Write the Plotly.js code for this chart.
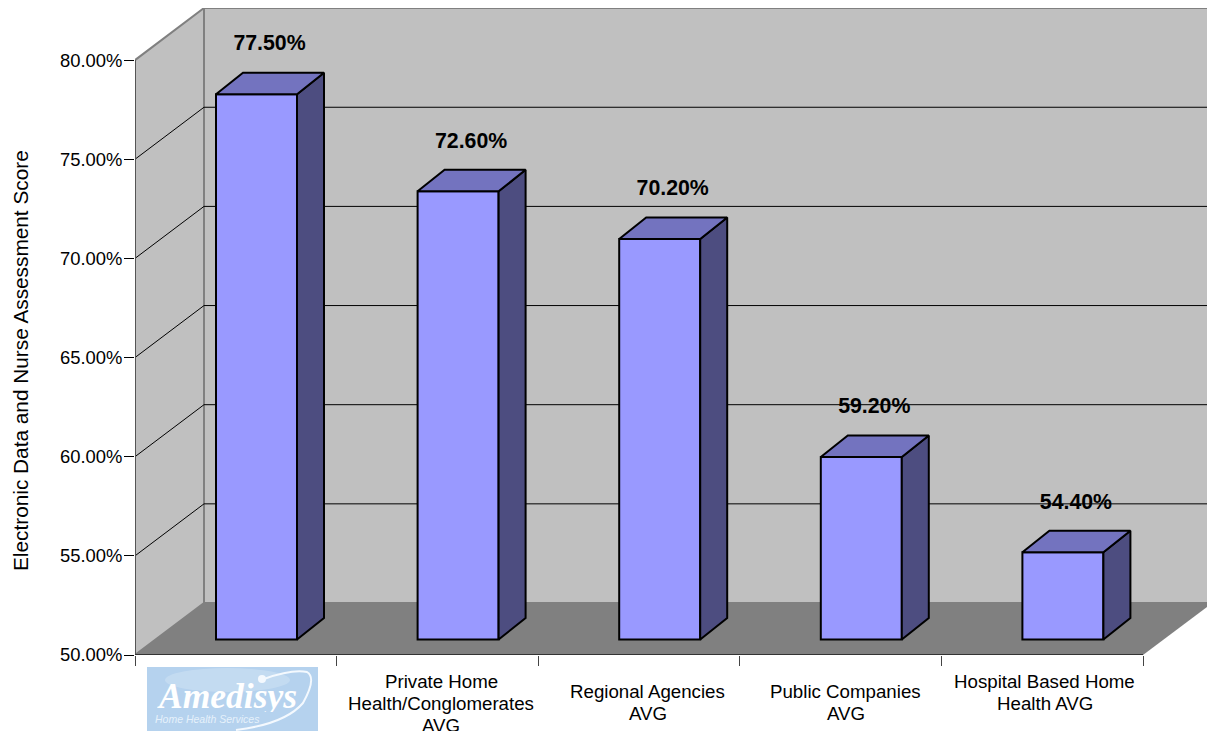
<!DOCTYPE html>
<html>
<head>
<meta charset="utf-8">
<script src="https://cdn.plot.ly/plotly-3.0.1.min.js"></script>
<style>html,body{margin:0;padding:0;background:#fff}</style>
</head>
<body>
<div id="chart" style="width:1207px;height:731px"></div>
<script>
// Agency groups and their assessment scores
const categories = ["Amedisys", "Private Home<br>Health/Conglomerates<br>AVG", "Regional Agencies<br>AVG", "Public Companies<br>AVG", "Hospital Based Home<br>Health AVG"];
const scores = [77.5, 72.6, 70.2, 59.2, 54.4];
const yTicks = [50, 55, 60, 65, 70, 75, 80];

// Chart frame in pixels; axis units are derived from these
const W = 1207, H = 731, L = 135, T = 8, B = 655;
const CAT_PX = 201.6, PCT_PX = 19.83;
const xu = px => px / CAT_PX, yu = px => px / PCT_PX;
const xMax = (W - L) / CAT_PX, yMin = 50, yMax = yMin + (B - T) / PCT_PX;

// Oblique depth of the room and of the bars
const roomDX = xu(69), roomDY = yu(52);
const barDX = xu(27), barDY = yu(21.5);
const barW = xu(81), barShiftX = xu(20.7), barShiftY = yu(15.5);

const FRONT = "#9999FF", SIDE = "#4D4D80", TOP = "#7373BF";
const WALL = "#C0C0C0", FLOOR = "#808080";
const FONT = "Liberation Sans, Arial, sans-serif";

const centers = scores.map((_, i) => i + 0.5);
const barX = centers.map(c => c + barShiftX);
const floorY = yMin + barShiftY;

// Polygon helper: joins several closed outlines into one fillable trace
function polyTrace(polys, fill) {
  const x = [], y = [];
  polys.forEach(p => { p.forEach(q => { x.push(q[0]); y.push(q[1]); }); x.push(null); y.push(null); });
  return { type: "scatter", mode: "lines", x, y, fill: "toself", fillcolor: fill,
           line: { color: "#000", width: 2, shape: "linear" }, hoverinfo: "skip", showlegend: false };
}

const sides = scores.map((v, i) => {
  const r = barX[i] + barW / 2;
  return [[r, floorY], [r + barDX, floorY + barDY], [r + barDX, v + barShiftY + barDY], [r, v + barShiftY], [r, floorY]];
});
const tops = scores.map((v, i) => {
  const l = barX[i] - barW / 2, r = barX[i] + barW / 2, t = v + barShiftY;
  return [[l, t], [r, t], [r + barDX, t + barDY], [l + barDX, t + barDY], [l, t]];
});

const traces = [
  { type: "bar", x: barX, y: scores.map(v => v - yMin), base: floorY, width: barW,
    marker: { color: FRONT, line: { color: "#000", width: 2 } }, hoverinfo: "skip", showlegend: false },
  polyTrace(sides, SIDE),
  polyTrace(tops, TOP),
  { type: "scatter", mode: "text", x: barX.map(x => x + xu(13)),
    y: scores.map(v => v + barShiftY + yu(49)),
    text: scores.map(v => v.toFixed(2) + "%"), textposition: "middle center",
    textfont: { family: FONT, size: 21.3, color: "#000", weight: 700 },
    hoverinfo: "skip", showlegend: false }
];

// Room: back wall, left wall, floor and gridlines
const poly = pts => "M" + pts.map(p => p.join(",")).join("L") + "Z";
const shapes = [
  { type: "path", layer: "below", xref: "x", yref: "y", fillcolor: WALL,
    line: { color: FLOOR, width: 2 },
    path: poly([[roomDX, yMin + roomDY], [roomDX, yMax], [xMax + 0.02, yMax], [xMax + 0.02, yMin + roomDY]]) },
  { type: "path", layer: "below", xref: "x", yref: "y", fillcolor: WALL,
    line: { color: FLOOR, width: 2 },
    path: poly([[0, yMin], [0, 80], [roomDX, yMax], [roomDX, yMin + roomDY]]) },
  { type: "path", layer: "below", xref: "x", yref: "y", fillcolor: FLOOR,
    line: { width: 0 },
    path: poly([[0, yMin], [roomDX, yMin + roomDY], [xMax, yMin + roomDY], [xMax, yMin + yu(48)], [5, yMin]]) }
];
yTicks.slice(1, 6).forEach(v => {
  shapes.push({ type: "line", layer: "below", xref: "x", yref: "y", x0: roomDX, x1: xMax, y0: v + roomDY, y1: v + roomDY, line: { color: "#000", width: 1 } });
  shapes.push({ type: "line", layer: "below", xref: "x", yref: "y", x0: 0, x1: roomDX, y0: v, y1: v + roomDY, line: { color: "#000", width: 1 } });
});
shapes.push({ type: "line", layer: "below", xref: "x", yref: "y", x0: 0, x1: 0, y0: yMin, y1: 80, line: { color: "#555", width: 2 } });
shapes.push({ type: "line", layer: "below", xref: "x", yref: "y", x0: 0, x1: 5, y0: yMin, y1: yMin, line: { color: "#333", width: 2 } });

// Company logo under the first category, placed in page pixels
const px = x => (x - L) / (W - L);
const py = y => (B - y) / (B - T);
const mark = { type: "rect", xref: "paper", yref: "paper", x0: px(147), x1: px(318), y0: py(667), y1: py(731), fillcolor: "#B5D2EE", line: { width: 0 } };
const glow = { type: "circle", xref: "paper", yref: "paper", x0: px(165), x1: px(290), y0: py(668), y1: py(692), fillcolor: "rgba(255,255,255,0.2)", line: { width: 0 } };
const swoosh = { type: "path", xref: "paper", yref: "paper", line: { color: "#F4F9FE", width: 2 },
  path: `M${px(264)},${py(679)} Q${px(292)},${py(669)} ${px(307)},${py(672)} Q${px(317)},${py(678)} ${px(303)},${py(703)} Q${px(285)},${py(724)} ${px(236)},${py(730)}` };
const dot = { type: "circle", xref: "paper", yref: "paper", x0: px(258), x1: px(266), y0: py(675), y1: py(683), fillcolor: "#F4F9FE", line: { width: 0 } };
shapes.push(mark, glow, swoosh, dot);

const centred = { xanchor: "center", yanchor: "middle", showarrow: false };
const annotations = [
  { ...centred, xref: "paper", yref: "paper", x: px(20), y: py(361), text: "Electronic Data and Nurse Assessment Score",
    textangle: -90, font: { family: FONT, size: 20.8, color: "#000" } },
  { ...centred, xref: "paper", yref: "paper", x: px(227), y: py(696), height: 32, text: "<b><i>Amedisys</i></b>",
    font: { family: "Liberation Serif, serif", size: 35.5, color: "#FFFFFF" } },
  { ...centred, xref: "paper", yref: "paper", x: px(207), y: py(719), text: "<i>Home Health Services</i>",
    font: { family: FONT, size: 10.5, color: "#E6F1FB" } }
];

// Category captions, one annotation per line so the leading stays tight
const captionX = [null, 441, 647.5, 845.5, 1044.5];
const captionY = [null, 681, 691.5, 691.5, 681];
const LEADING = 22;
categories.forEach((c, i) => {
  if (i === 0) return;
  c.split("<br>").forEach((line, k) => {
    annotations.push({ ...centred, xref: "paper", yref: "paper", x: px(captionX[i]), y: py(captionY[i] + k * LEADING),
      text: line, font: { family: FONT, size: 18.7, color: "#000" } });
  });
});

const layout = {
  width: W, height: H,
  margin: { l: L, r: 0, t: T, b: H - B, pad: 0 },
  paper_bgcolor: "#fff", plot_bgcolor: "rgba(0,0,0,0)",
  font: { family: FONT, color: "#000", size: 18 },
  showlegend: false, bargap: 0,
  xaxis: { range: [0, xMax], tickmode: "array", tickvals: [0, 1, 2, 3, 4, 5], ticktext: ["", "", "", "", "", ""],
    ticks: "outside", ticklen: 10, tickwidth: 1, tickcolor: "#444", showgrid: false, zeroline: false, showline: false },
  yaxis: { range: [yMin, yMax], tickmode: "array", tickvals: yTicks, ticktext: yTicks.map(v => v.toFixed(2) + "%"),
    ticks: "outside", ticklen: 10, tickwidth: 1, tickcolor: "#000", ticklabelstandoff: -2,
    tickfont: { family: FONT, size: 18.4, color: "#000" },
    showgrid: false, zeroline: false, showline: false },
  shapes, annotations
};

Plotly.newPlot("chart", traces, layout, { displayModeBar: false, staticPlot: true });
</script>
</body>
</html>
